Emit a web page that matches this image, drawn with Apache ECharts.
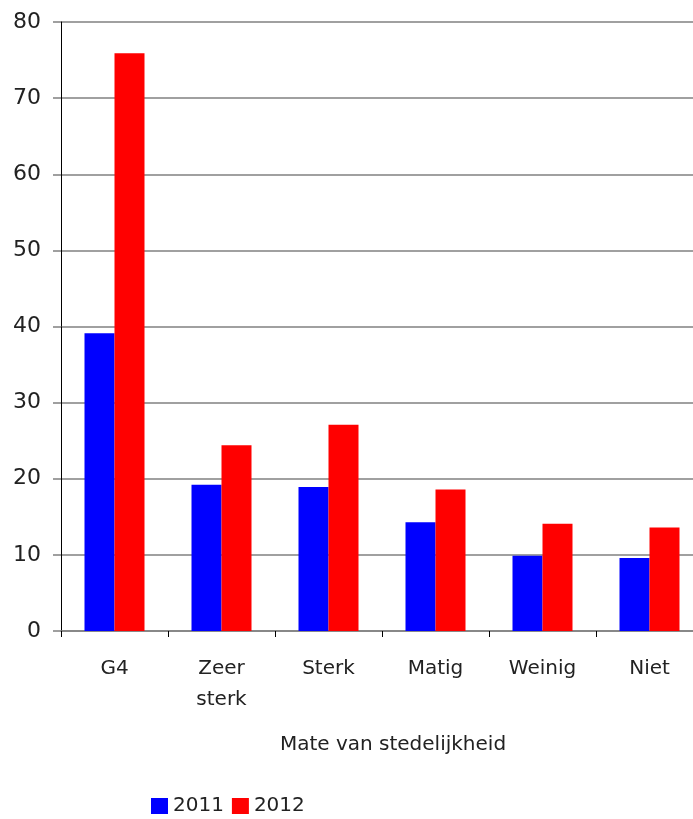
<!DOCTYPE html>
<html>
<head>
<meta charset="utf-8">
<script src="https://cdn.jsdelivr.net/npm/echarts@6/dist/echarts.min.js"></script>
<style>
  html, body { margin: 0; padding: 0; background: #fff; }
  #chart { width: 693px; height: 819px; }
</style>
</head>
<body>
<div id="chart"></div>
<script>
// categories and values
const categories = ['G4', 'Zeer\nsterk', 'Sterk', 'Matig', 'Weinig', 'Niet'];
const values2011 = [39.1, 19.2, 18.9, 14.3, 9.9, 9.6];
const values2012 = [75.9, 24.4, 27.1, 18.6, 14.1, 13.6];
const yTicks = { min: 0, max: 80, interval: 10 };

const fontFamily = 'DejaVu Sans';
const chart = echarts.init(document.getElementById('chart'));
chart.setOption({
    animation: false,
    textStyle: { fontFamily: fontFamily, color: '#222' },
    // plot area runs a little past the right edge of the canvas
    grid: { left: 61, top: 22, width: 642, height: 609, containLabel: false, outerBoundsMode: 'none' },
    legend: {
        data: ['2011', '2012'],
        left: 151,
        top: 796,
        padding: 0,
        itemWidth: 17,
        itemHeight: 16,
        itemGap: 8,
        icon: 'rect',
        textStyle: { fontSize: 20, color: '#222', fontFamily: fontFamily }
    },
    xAxis: {
        type: 'category',
        data: categories,
        name: 'Mate van stedelijkheid',
        nameLocation: 'middle',
        nameGap: 104,
        nameTextStyle: { fontSize: 20, color: '#222', padding: [0, 0, 0, 22] },
        axisLine: { lineStyle: { color: '#808080', width: 1.5 } },
        axisTick: { show: true, length: 6, lineStyle: { color: '#000', width: 1 } },
        axisLabel: { fontSize: 20, color: '#222', margin: 22, lineHeight: 31, interval: 0 }
    },
    yAxis: {
        type: 'value',
        min: yTicks.min,
        max: yTicks.max,
        interval: yTicks.interval,
        axisLine: { show: true, lineStyle: { color: '#000', width: 1 } },
        axisTick: { show: true, length: 8, lineStyle: { color: '#808080', width: 1.5 } },
        axisLabel: { fontSize: 22, color: '#222', margin: 20 },
        splitLine: { lineStyle: { color: '#808080', width: 1.5 } }
    },
    series: [
        {
            name: '2011',
            type: 'bar',
            data: values2011,
            barWidth: 30,
            barGap: '0%',
            itemStyle: { color: '#0000ff' }
        },
        {
            name: '2012',
            type: 'bar',
            data: values2012,
            barWidth: 30,
            itemStyle: { color: '#ff0000' }
        }
    ]
});
</script>
</body>
</html>
